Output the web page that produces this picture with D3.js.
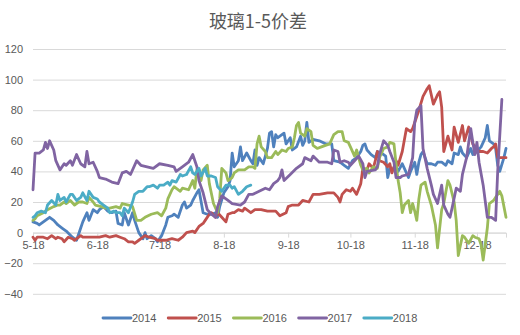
<!DOCTYPE html>
<html><head><meta charset="utf-8">
<script src="https://cdn.jsdelivr.net/npm/d3@7"></script>
<style>
html,body{margin:0;padding:0;background:#fff;}
text{font-family:"Liberation Sans",Arial,"Noto Sans CJK SC",sans-serif;}
</style></head>
<body><svg id="c" width="520" height="335"></svg>
<script>
const title = "玻璃1-5价差";
const seriesNames = ["2014","2015","2016","2017","2018"];
const seriesColors = ["#4F81BD","#C0504D","#9BBB59","#8064A2","#4BACC6"];
const startDate = "2018-05-18";
const endDay = 228;
const yTicks = [-40,-20,0,20,40,60,80,100,120];
const xTickMonths = [5,6,7,8,9,10,11,12];

// [day offset from 5-18, value]
const s2014 = [[0,7],[2,6],[3,5],[6,8],[8,10],[10,8],[12,5],[14,3],[16,1],[19,-3],[21,-5],[23,3],[24,7],[26,13],[27,8],[29,15],[31,13],[32,15],[34,17],[36,14],[38,13],[40,14],[41,6],[43,5],[44,13],[46,5],[48,13],[49,8],[51,0],[53,-4],[54,0],[55,-4],[57,-2],[59,-4],[60,-6],[62,-2],[64,5],[65,10],[67,11],[68,12],[70,10],[72,18],[73,20],[74,16],[76,18],[77,21],[79,26],[80,28],[82,13],[84,12],[86,12],[88,13],[89,10],[90,17],[92,26],[94,30],[95,34],[96,52],[97,43],[99,47],[100,56],[101,47],[103,52],[105,47],[106,45],[107,54],[108,44],[109,49],[111,45],[113,55],[114,65],[115,66],[116,56],[117,64],[118,62],[119,63],[121,65],[122,58],[124,62],[125,54],[127,56],[129,63],[130,57],[131,60],[132,72],[133,59],[135,61],[138,60],[141,58],[144,58],[145,47],[148,46],[150,44],[152,42],[154,47],[156,49],[158,53],[159,57],[160,58],[161,54],[163,51],[165,49],[166,53],[168,52],[170,50],[171,36],[172,42],[173,41],[175,43],[176,40],[178,45],[179,42],[181,36],[182,40],[184,46],[185,38],[186,46],[187,51],[188,53],[190,45],[192,45],[194,44],[195,46],[197,46],[199,44],[200,47],[202,45],[203,52],[205,51],[206,56],[207,52],[209,49],[211,55],[212,51],[214,53],[216,56],[217,59],[218,62],[219,70],[220,60],[222,58],[223,55],[224,44],[225,40],[227,49],[228,55]];
const s2015 = [[0,-3],[1,-5],[2,-3],[5,-3],[7,-4],[9,-2],[11,-4],[12,-3],[14,-4],[15,-6],[17,-3],[19,-4],[20,-5],[23,-2],[24,-3],[27,-3],[29,-3],[32,-3],[35,-2],[37,-3],[40,-2],[42,-3],[44,-4],[46,-6],[48,-6],[49,-7],[51,-5],[53,-3],[54,-2],[56,-3],[59,-4],[60,-5],[64,-5],[67,-4],[70,-5],[72,-3],[74,0],[77,1],[78,0],[80,4],[82,6],[83,8],[85,12],[86,13],[88,10],[89,13],[91,10],[93,7],[94,12],[96,13],[97,13],[99,15],[101,14],[102,16],[104,14],[105,13],[107,15],[110,15],[113,14],[117,14],[119,11],[122,13],[123,17],[125,18],[128,18],[130,21],[133,20],[135,25],[138,25],[142,26],[145,26],[147,23],[148,20],[149,25],[151,28],[153,27],[154,29],[156,25],[158,32],[159,42],[161,41],[162,45],[164,42],[165,47],[166,53],[167,47],[169,46],[171,43],[172,45],[173,39],[175,47],[176,44],[178,53],[180,68],[182,66],[183,68],[184,72],[186,80],[188,89],[190,94],[191,96],[193,84],[195,90],[196,92],[197,82],[198,53],[200,63],[202,54],[203,69],[205,59],[207,70],[208,60],[210,69],[212,58],[213,56],[215,53],[217,53],[219,52],[221,55],[222,56],[223,58],[224,49],[226,49],[228,49]];
const s2016 = [[0,8],[1,9],[2,11],[5,13],[7,15],[10,17],[12,18],[13,18],[15,20],[16,19],[18,21],[20,18],[22,20],[24,20],[26,19],[27,23],[29,20],[30,18],[33,17],[35,16],[37,16],[40,17],[42,16],[43,19],[46,18],[48,17],[50,8],[52,8],[54,10],[57,12],[60,13],[62,11],[64,16],[65,22],[67,28],[68,30],[71,27],[72,29],[75,28],[77,34],[78,29],[79,41],[80,41],[81,34],[82,41],[84,44],[85,32],[87,19],[89,13],[90,22],[91,42],[93,39],[94,34],[96,36],[97,39],[99,41],[101,41],[102,41],[104,43],[106,43],[107,42],[108,58],[109,63],[110,56],[112,53],[113,49],[115,49],[117,53],[118,51],[120,54],[122,53],[123,55],[125,56],[126,62],[127,70],[128,72],[129,65],[131,63],[132,68],[134,66],[135,57],[137,55],[139,56],[143,58],[145,64],[147,66],[149,66],[150,60],[152,59],[153,56],[155,50],[156,54],[158,44],[159,41],[161,42],[162,39],[164,43],[166,42],[167,49],[169,55],[171,56],[172,59],[174,58],[175,45],[176,34],[177,26],[178,13],[179,18],[181,21],[182,13],[183,19],[184,14],[185,8],[186,22],[187,31],[189,33],[190,27],[192,18],[194,5],[195,-10],[197,15],[198,19],[200,34],[201,31],[203,20],[204,8],[205,-15],[207,-2],[208,-3],[210,-7],[212,-2],[213,-3],[215,-4],[216,-8],[217,-18],[219,3],[220,19],[222,21],[223,23],[225,27],[226,24],[228,10]];
const s2017 = [[0,28],[1,52],[3,52],[5,54],[6,59],[7,55],[8,60],[10,54],[11,47],[13,41],[15,45],[16,44],[18,47],[19,44],[21,51],[23,45],[25,43],[26,53],[27,45],[29,46],[31,40],[32,36],[35,35],[38,33],[41,32],[43,39],[45,40],[47,38],[50,47],[52,44],[55,43],[58,42],[61,45],[65,44],[68,43],[69,40],[72,43],[75,46],[77,51],[79,43],[80,34],[82,26],[84,15],[86,12],[88,10],[89,17],[91,24],[94,21],[96,19],[100,18],[102,20],[104,25],[106,25],[109,27],[112,29],[114,28],[116,32],[118,34],[119,36],[120,41],[121,34],[124,38],[127,42],[130,45],[131,49],[134,47],[135,50],[138,46],[142,46],[144,45],[145,54],[147,53],[148,46],[150,47],[152,46],[153,44],[155,47],[157,50],[159,45],[160,36],[161,40],[165,41],[166,43],[167,51],[169,60],[171,57],[172,53],[174,46],[175,36],[177,36],[178,37],[181,38],[183,49],[184,72],[185,80],[187,83],[188,55],[190,42],[192,31],[193,25],[195,19],[197,31],[198,18],[200,12],[201,10],[202,16],[204,29],[206,27],[207,38],[209,49],[211,68],[212,59],[213,51],[214,59],[215,46],[217,31],[219,10],[221,10],[222,9],[223,8],[224,40],[226,87]];
const s2018 = [[0,10],[1,11],[2,13],[4,14],[6,13],[7,18],[9,21],[11,18],[12,25],[13,21],[15,23],[16,20],[18,25],[19,25],[21,21],[23,23],[24,26],[26,21],[27,27],[29,23],[31,22],[32,20],[34,18],[36,16],[37,13],[39,14],[40,13],[42,13],[43,11],[44,16],[46,13],[48,20],[49,25],[51,27],[53,27],[55,30],[56,30],[58,31],[60,29],[61,31],[63,31],[65,33],[66,31],[67,34],[69,33],[71,38],[72,37],[74,38],[76,43],[77,39],[78,38],[80,42],[81,37],[83,42],[84,37],[86,37],[88,36],[89,30],[91,27],[93,31],[95,31],[96,29],[97,30],[99,25],[101,27],[103,30],[105,31]];
const seriesData = [s2014,s2015,s2016,s2017,s2018];

const svg = d3.select("#c");
const parse = d3.timeParse("%Y-%m-%d");
const start = parse(startDate);
const dayToDate = d => d3.timeDay.offset(start, d);

const x = d3.scaleTime().domain([start, dayToDate(endDay)]).range([33, 506]);
const y = d3.scaleLinear().domain([-40,120]).range([293.8, 49]);

// title
svg.append("text").attr("x", 258).attr("y", 28).attr("text-anchor","middle")
  .attr("font-size", 18).attr("fill","#595959")
  .style("font-family",'"Noto Sans CJK SC","Liberation Sans",sans-serif')
  .text(title);

// gridlines + y labels
const yAxis = d3.axisLeft(y).tickValues(yTicks).tickSize(-(506-33)).tickPadding(10);
const gy = svg.append("g").attr("transform","translate(33,0)").call(yAxis);
gy.select(".domain").remove();
gy.selectAll(".tick line").attr("stroke","#D9D9D9").attr("stroke-width",1);
gy.selectAll(".tick text").attr("fill","#595959").attr("font-size",11).attr("x",-10);

// x axis at 0
const xTickDates = xTickMonths.map(m => new Date(start.getFullYear(), m-1, 18));
const xAxis = d3.axisBottom(x).tickValues(xTickDates).tickFormat(d3.timeFormat("%-m-%d")).tickSize(5).tickPadding(4);
const gx = svg.append("g").attr("transform",`translate(0,${y(0)})`).call(xAxis);
gx.select(".domain").attr("stroke","#D9D9D9");
gx.selectAll(".tick line").attr("stroke","#D9D9D9");
gx.selectAll(".tick text").attr("fill","#595959").attr("font-size",11);

// lines
const line = d3.line().x(d => x(dayToDate(d[0]))).y(d => y(d[1]));
seriesData.forEach((s,i) => {
  svg.append("path").datum(s).attr("d", line).attr("fill","none")
    .attr("stroke", seriesColors[i]).attr("stroke-width",2.8)
    .attr("stroke-linejoin","round").attr("stroke-linecap","round");
});

// legend
const lg = svg.append("g");
seriesNames.forEach((n,i) => {
  const lx = 103 + i*65.2;
  lg.append("line").attr("x1",lx).attr("x2",lx+28).attr("y1",318).attr("y2",318)
    .attr("stroke",seriesColors[i]).attr("stroke-width",2.8).attr("stroke-linecap","round");
  lg.append("text").attr("x",lx+29).attr("y",322).attr("font-size",11).attr("fill","#595959").text(n);
});
</script></body></html>
